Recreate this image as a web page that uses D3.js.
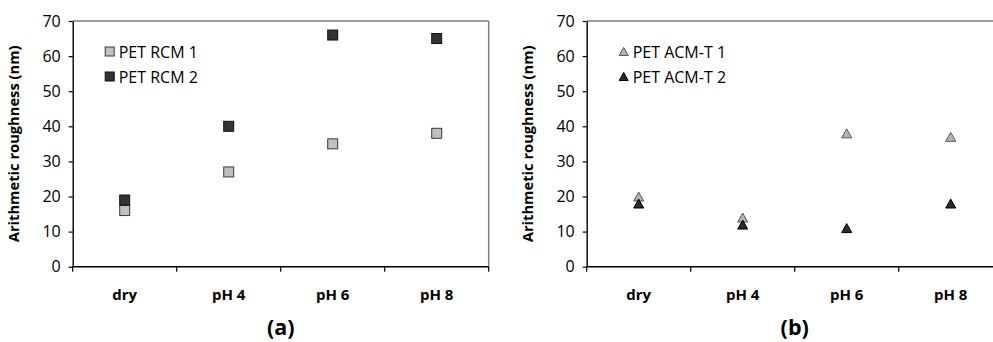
<!DOCTYPE html>
<html>
<head>
<meta charset="utf-8">
<script src="https://cdn.jsdelivr.net/npm/d3@7"></script>
<style>
  html, body { margin: 0; padding: 0; background: #fff; }
  svg { display: block; }
  text { font-family: "Open Sans", "Noto Sans", sans-serif; fill: #000; }
</style>
</head>
<body>
<svg id="chart" width="993" height="342"></svg>
<script>
// Sample conditions along the x axis
const categories = ["dry", "pH 4", "pH 6", "pH 8"];
const yTicks = [0, 10, 20, 30, 40, 50, 60, 70];

// Panel (a): PET RCM membranes, arithmetic roughness in nm
const rcm1 = [16, 27, 35, 38];
const rcm2 = [19, 40, 66, 65];

// Panel (b): PET ACM-T membranes, arithmetic roughness in nm
const acm1 = [20, 14, 38, 37];
const acm2 = [18, 12, 11, 18];

const panels = [
  {
    letter: "(a)", left: 72.7, right: 488.7, shape: "square", rightBorder: true,
    series: [
      { name: "PET RCM 1", values: rcm1, fill: "#c0c0c0", stroke: "#3a3a3a" },
      { name: "PET RCM 2", values: rcm2, fill: "#333333", stroke: "#111111" }
    ]
  },
  {
    letter: "(b)", left: 586.7, right: 1002.7, shape: "triangle", rightBorder: false,
    series: [
      { name: "PET ACM-T 1", values: acm1, fill: "#b4b4b4", stroke: "#555555" },
      { name: "PET ACM-T 2", values: acm2, fill: "#2a2a2a", stroke: "#000000" }
    ]
  }
];

const plotTop = 21, plotBottom = 266.7;
const svg = d3.select("#chart");

const y = d3.scaleLinear().domain([0, 70]).range([plotBottom, plotTop]);

function drawMarker(g, shape, cx, cy, fill, stroke, size) {
  if (shape === "square") {
    g.append("rect")
      .attr("x", cx - size / 2).attr("y", cy - size / 2)
      .attr("width", size).attr("height", size)
      .attr("fill", fill).attr("stroke", stroke).attr("stroke-width", 1);
  } else {
    const h = size * 0.9, w = size;
    g.append("path")
      .attr("d", `M${cx},${cy - h / 2} L${cx + w / 2},${cy + h / 2} L${cx - w / 2},${cy + h / 2} Z`)
      .attr("fill", fill).attr("stroke", stroke).attr("stroke-width", 1)
      .attr("stroke-linejoin", "miter");
  }
}

panels.forEach(p => {
  const g = svg.append("g");
  const x = d3.scaleBand().domain(categories).range([p.left, p.right]);

  // frame: grey top and right edges
  g.append("line")
    .attr("x1", p.left).attr("x2", p.right).attr("y1", plotTop).attr("y2", plotTop)
    .attr("stroke", "#7f7f7f").attr("stroke-width", 1.5);
  if (p.rightBorder) {
    g.append("line")
      .attr("x1", p.right).attr("x2", p.right).attr("y1", plotTop).attr("y2", plotBottom)
      .attr("stroke", "#7f7f7f").attr("stroke-width", 1.5);
  }

  // y axis
  const yAxis = g.append("g")
    .attr("transform", `translate(${p.left},0)`)
    .call(d3.axisLeft(y).tickValues(yTicks).tickSize(4).tickSizeOuter(0).tickPadding(8));
  yAxis.select(".domain").attr("stroke", "#000").attr("stroke-width", 1.4);
  yAxis.selectAll(".tick line").attr("stroke", "#000").attr("stroke-width", 1.2);
  yAxis.selectAll(".tick text")
    .attr("font-size", 16).attr("fill", "#222")
    .style("font-family", "'Open Sans', sans-serif");

  // x axis: ticks on category boundaries
  const boundaries = categories.map(c => x(c)).concat([p.right]);
  const xAxis = g.append("g").attr("transform", `translate(0,${plotBottom})`);
  xAxis.append("line")
    .attr("x1", p.left).attr("x2", p.right)
    .attr("stroke", "#000").attr("stroke-width", 1.4);
  xAxis.selectAll("line.tk").data(boundaries).join("line")
    .attr("class", "tk")
    .attr("x1", d => d).attr("x2", d => d).attr("y1", 0).attr("y2", 5)
    .attr("stroke", "#000").attr("stroke-width", 1.2);
  xAxis.selectAll("text.cat").data(categories).join("text")
    .attr("class", "cat")
    .attr("x", d => x(d) + x.bandwidth() / 2)
    .attr("y", 33)
    .attr("text-anchor", "middle")
    .attr("font-size", 15).attr("font-weight", "bold")
    .text(d => d);

  // axis title
  g.append("text")
    .attr("transform", `translate(${p.left - 53.5},${(plotTop + plotBottom) / 2}) rotate(-90)`)
    .attr("text-anchor", "middle")
    .attr("font-size", 14.7).attr("font-weight", "bold")
    .text("Arithmetic roughness (nm)");

  // panel letter
  g.append("text")
    .attr("x", (p.left + p.right) / 2).attr("y", 335)
    .attr("text-anchor", "middle")
    .attr("font-size", 21.5).attr("font-weight", "bold")
    .text(p.letter);

  // data markers
  p.series.forEach(s => {
    const mg = g.append("g");
    s.values.forEach((v, i) => {
      drawMarker(mg, p.shape, x(categories[i]) + x.bandwidth() / 2, y(v), s.fill, s.stroke, 10);
    });
  });

  // legend
  p.series.forEach((s, i) => {
    const ly = 51.5 + i * 25;
    drawMarker(g, p.shape, p.left + 37, ly, s.fill, s.stroke, 9);
    g.append("text")
      .attr("x", p.left + 46).attr("y", ly + 6)
      .attr("font-size", 16).attr("fill", "#222")
      .text(s.name);
  });
});
</script>
</body>
</html>
